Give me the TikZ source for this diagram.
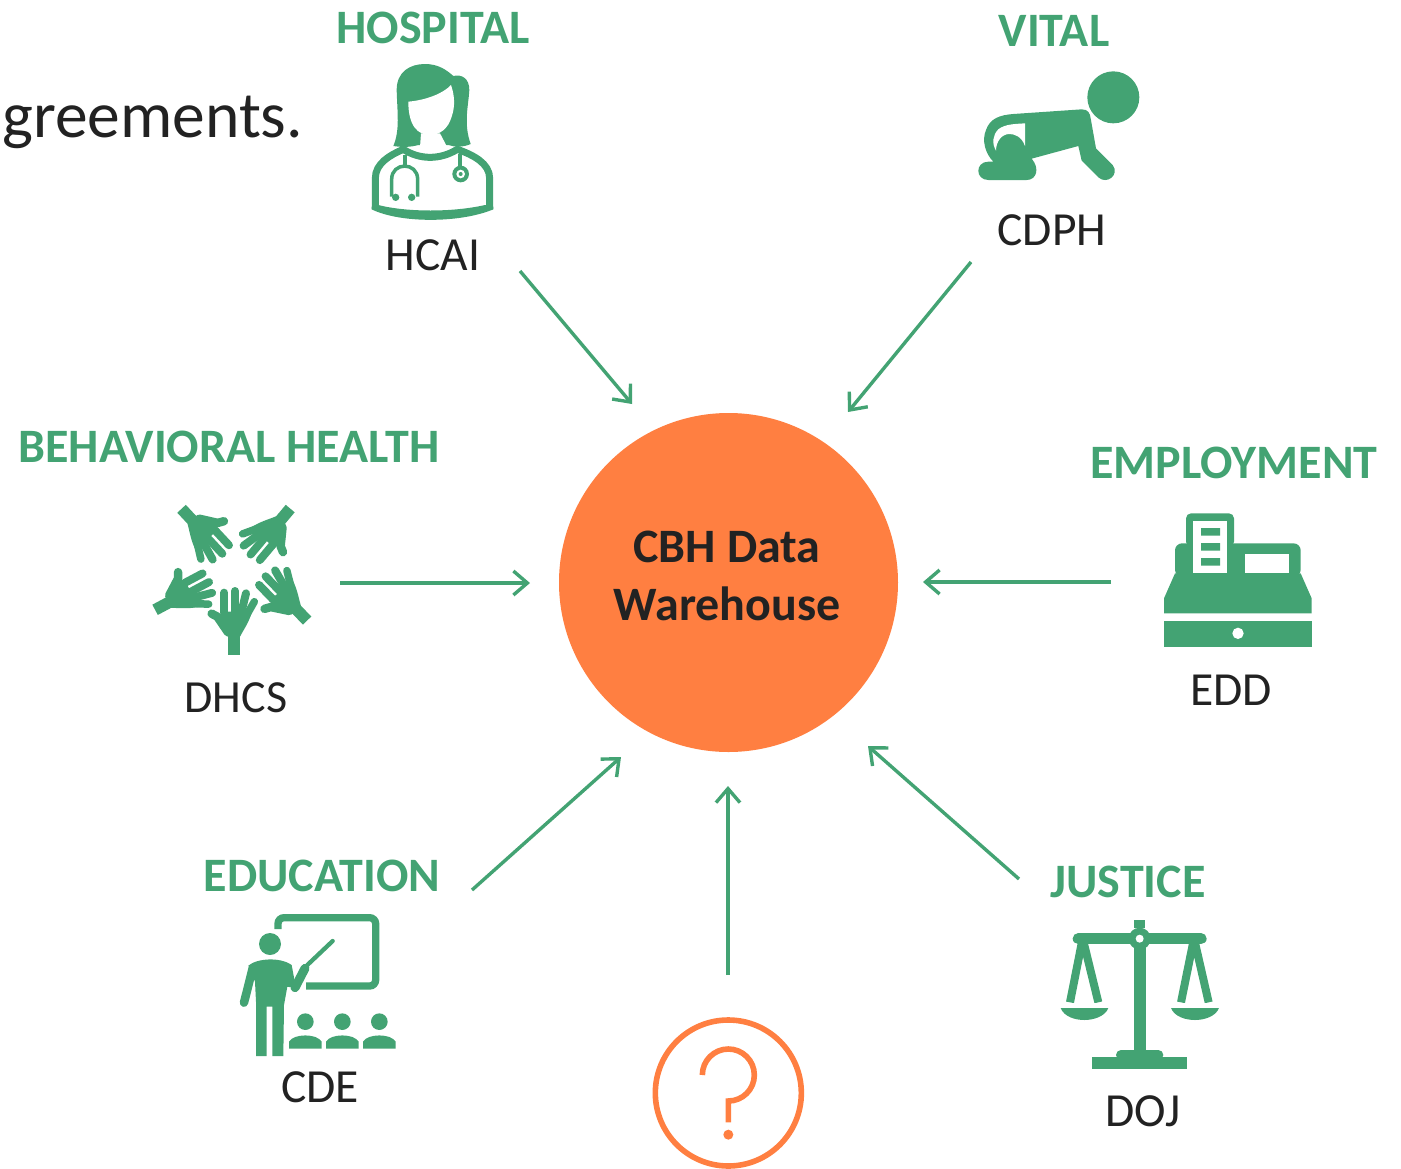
\documentclass[tikz,border=0pt]{standalone}
\usepackage{fontspec}
\setmainfont{Carlito}
\usetikzlibrary{arrows.meta}
\definecolor{grn}{HTML}{43A373}
\definecolor{org}{HTML}{FF7F41}
\definecolor{ink}{HTML}{222222}
\tikzset{
 x=1pt,y=-1pt,
 head/.style={font=\fontsize{48}{48}\selectfont\bfseries,text=grn,anchor=base,inner sep=0pt},
 sub/.style={font=\fontsize{47.5}{48}\selectfont,text=ink,anchor=base,inner sep=0pt},
 arr/.style={draw=grn,line width=3.4pt,-{Straight Barb[length=14pt,width=24pt,line width=3.4pt]}},
 icon/.style={shift={#1},scale=0.33333},
 gs/.style={draw=grn,line width=#1,fill=none},
}
\begin{document}
\begin{tikzpicture}
\useasboundingbox (0,0) rectangle (1401,1168);
% centre
\node[circle,fill=org,minimum size=339pt,inner sep=0pt] (hub) at (728.5,582.5) {};
\node[font=\fontsize{48}{48}\selectfont\bfseries,text=ink,anchor=base,inner sep=0pt] (hubA) at (727,562) {CBH Data};
\node[font=\fontsize{48}{48}\selectfont\bfseries,text=ink,anchor=base,inner sep=0pt] (hubB) at (727,620) {Warehouse};
\node[font=\fontsize{65.5}{66}\selectfont,text=ink,anchor=base west,inner sep=0pt] (frag) at (2,137) {greements.};
% labels
\node[head] (hH) at (433,43) {HOSPITAL};
\node[head] (hV) at (1054,46) {VITAL};
\node[head] (hB) at (229,462) {BEHAVIORAL HEALTH};
\node[head] (hE) at (1234,478) {EMPLOYMENT};
\node[head] (hD) at (322,891) {EDUCATION};
\node[head] (hJ) at (1128,897) {JUSTICE};
\node[sub] (sH) at (433,270) {HCAI};
\node[sub] (sV) at (1052,245) {CDPH};
\node[sub,font=\fontsize{46}{46}\selectfont] (sB) at (236,712) {DHCS};
\node[sub] (sE) at (1231,705) {EDD};
\node[sub] (sD) at (320,1102) {CDE};
\node[sub] (sJ) at (1143,1126) {DOJ};
% arrows
\coordinate (a1) at (520,271); \coordinate (b1) at (632,404);
\coordinate (a2) at (971,262); \coordinate (b2) at (848,412);
\coordinate (a3) at (340,583); \coordinate (b3) at (530,583);
\coordinate (a4) at (1111,582); \coordinate (b4) at (923,582);
\coordinate (a5) at (472,890); \coordinate (b5) at (621,757);
\coordinate (a6) at (728,975); \coordinate (b6) at (728,786);
\coordinate (a7) at (1019,879); \coordinate (b7) at (868,746);
\foreach \i in {1,...,7}{\draw[arr] (a\i) -- (b\i);}
% doctor
\begin{scope}[icon={(340,50)}]
 \fill[grn] (160,288) .. controls (180,240) and (172,190) .. (170,120)
   .. controls (170,65) and (210,42) .. (255,42)
   .. controls (295,42) and (320,60) .. (340,78)
   .. controls (365,72) and (388,85) .. (388,120)
   .. controls (385,170) and (370,220) .. (392,282)
   .. controls (370,292) and (345,292) .. (325,285)
   -- (235,285) .. controls (210,292) and (185,292) .. (160,288) -- cycle;
 \fill[white] (205,155) .. controls (260,150) and (310,130) .. (333,105)
   .. controls (345,140) and (345,170) .. (335,200)
   .. controls (325,235) and (300,255) .. (270,255)
   .. controls (235,255) and (205,230) .. (205,155) -- cycle;
 \fill[white] (243,250) -- (300,250) -- (322,292) -- (240,292) -- cycle;
 \draw[gs=7pt] (106,478) -- (106,385) .. controls (106,340) and (150,315) .. (190,298)
   .. controls (240,330) and (300,330) .. (352,298)
   .. controls (400,315) and (449,340) .. (449,385) -- (449,478);
 \fill[grn] (95,478) .. controls (180,520) and (360,520) .. (460,478)
   -- (460,470) -- (435,465) .. controls (340,487) and (200,487) .. (115,465) -- (95,470) -- cycle;
 \draw[gs=3.5pt] (195,315) -- (195,345);
 \draw[gs=3.5pt] (155,440) -- (155,388) .. controls (155,335) and (233,335) .. (233,388) -- (233,440);
 \fill[grn] (167,442) circle (11) (215,442) circle (11);
 \draw[gs=3.5pt] (360,312) -- (360,350);
 \fill[grn] (362,372) circle (25);
 \fill[white] (362,372) circle (13);
 \fill[grn] (362,372) circle (6);
\end{scope}
% baby
\begin{scope}[icon={(960,60)}]
 \fill[grn] (460,112) circle (78);
 \fill[grn] (365,148) .. controls (385,148) and (390,160) .. (392,175) -- (408,265)
   -- (458,315) .. controls (480,345) and (440,375) .. (415,352)
   -- (365,302) -- (355,258) -- (215,296) .. controls (240,325) and (230,360) .. (200,360)
   -- (85,360) .. controls (45,360) and (45,305) .. (85,305) -- (100,305)
   .. controls (75,280) and (65,240) .. (78,210)
   .. controls (90,175) and (120,165) .. (160,162) -- cycle;
 \fill[white] (195,190) -- (195,258) .. controls (185,230) and (165,222) .. (148,222)
   .. controls (125,222) and (108,245) .. (108,272)
   .. controls (95,250) and (98,225) .. (115,208)
   .. controls (135,192) and (165,192) .. (195,190) -- cycle;
\end{scope}
% hands
\begin{scope}[icon={(140,495)}]
 \foreach \a/\wx/\wy/\w in {0/282/480/480,44/501/377/470,140/451/41/470,-137/125/41/470,-62/45/344/470}{
  \begin{scope}[shift={(\wx,\wy)},rotate=\a,shift={(-282,-\w)}]
   \fill[grn] (265,415) rectangle (300,\w);
   \fill[grn] (242,350) -- (336,350) .. controls (328,380) and (312,402) .. (300,425) -- (265,425)
      .. controls (258,400) and (240,385) .. (240,365) -- cycle;
   \draw[grn,line width=8pt,line cap=round] (253,352) -- (253,293);
   \draw[grn,line width=8pt,line cap=round] (285,352) -- (285,288);
   \draw[grn,line width=8pt,line cap=round] (304,352) -- (318,295);
   \draw[grn,line width=7.5pt,line cap=round] (320,360) -- (343,320);
   \draw[grn,line width=8.5pt,line cap=round,line join=round] (215,356) -- (232,365) -- (264,412);
  \end{scope}
 }
\end{scope}
% register
\begin{scope}[icon={(1150,505)}]
 \fill[grn,rounded corners=5pt] (108,125) -- (108,25) -- (252,25) -- (252,125) -- cycle;
 \fill[grn,rounded corners=7pt] (75,215) -- (75,115) -- (452,115) -- (452,215) -- cycle;
 \fill[grn] (75,205) -- (452,205) -- (485,280) -- (485,325) -- (42,325) -- (42,280) -- cycle;
 \fill[grn] (42,348) rectangle (485,425);
 \fill[white] (264,385) circle (17);
 \fill[white] (285,148) rectangle (418,203);
 \fill[white] (130,47) rectangle (232,203);
 \fill[grn] (153,69) rectangle (210,92) (153,114) rectangle (210,137) (153,159) rectangle (210,182);
\end{scope}
% teacher
\begin{scope}[icon={(230,905)}]
 \draw[grn,line width=7.3pt,rounded corners=6pt] (144,72) -- (144,38) -- (437,38) -- (437,243) -- (228,243);
 \fill[white] (135,78) -- (160,78) -- (160,100) -- (135,100) -- cycle;
 \fill[grn] (120,117) circle (33);
 \draw[grn,line width=4.3pt,line cap=round] (232,180) -- (308,108);
 \draw[grn,line width=9pt,line cap=round] (225,190) -- (195,248);
 \draw[grn,line width=8.5pt,line cap=round] (68,190) -- (42,293);
 \fill[grn] (55,182) .. controls (80,160) and (150,155) .. (185,180) -- (198,250) -- (172,245) -- (162,300)
   -- (160,453) -- (127,453) -- (127,305) -- (110,305) -- (110,453) -- (78,453) -- (78,290) -- (75,230) -- cycle;
 \foreach \x in {226,337,448}{
  \fill[grn] (\x,350) circle (25);
  \fill[grn] (\x-49,431) -- (\x-49,410) .. controls (\x-35,385) and (\x+35,385) .. (\x+49,410) -- (\x+49,431) -- cycle;
 }
\end{scope}
% scales
\begin{scope}[icon={(1050,920)}]
 \fill[grn] (252,0) rectangle (286,25);
 \draw[grn,line width=11.3pt,line cap=round] (85,56) -- (453,56);
 \draw[grn,line width=8pt,line join=miter] (98,55) -- (60,247) (98,55) -- (145,247);
 \draw[grn,line width=8pt] (432,55) -- (393,247) (432,55) -- (476,247);
 \fill[white] (30,247.5) rectangle (510,262);
 \fill[grn] (269,56) circle (33);
 \fill[grn] (251,60) rectangle (287,395);
 \fill[white] (269,56) circle (12);
 \fill[grn,rounded corners=5pt] (198,420) -- (198,390) -- (340,390) -- (340,420) -- cycle;
 \fill[grn] (127,412) rectangle (412,448);
 \fill[grn] (32,264) -- (175,264) .. controls (165,290) and (130,300) .. (103,300) .. controls (75,300) and (42,290) .. (32,264) -- cycle;
 \fill[grn] (363,264) -- (507,264) .. controls (497,290) and (462,300) .. (435,300) .. controls (407,300) and (373,290) .. (363,264) -- cycle;
\end{scope}
% question
\begin{scope}[icon={(640,1008)}]
 \node[circle,draw=org,line width=5.6pt,minimum size=146pt,inner sep=0pt] (q) at (265,255) {};
 \draw[org,line width=5.6pt] (187,201) arc[start angle=180,end angle=450,radius=78] -- (265,343);
 \fill[org] (265,380) circle (15);
\end{scope}
\end{tikzpicture}
\end{document}
